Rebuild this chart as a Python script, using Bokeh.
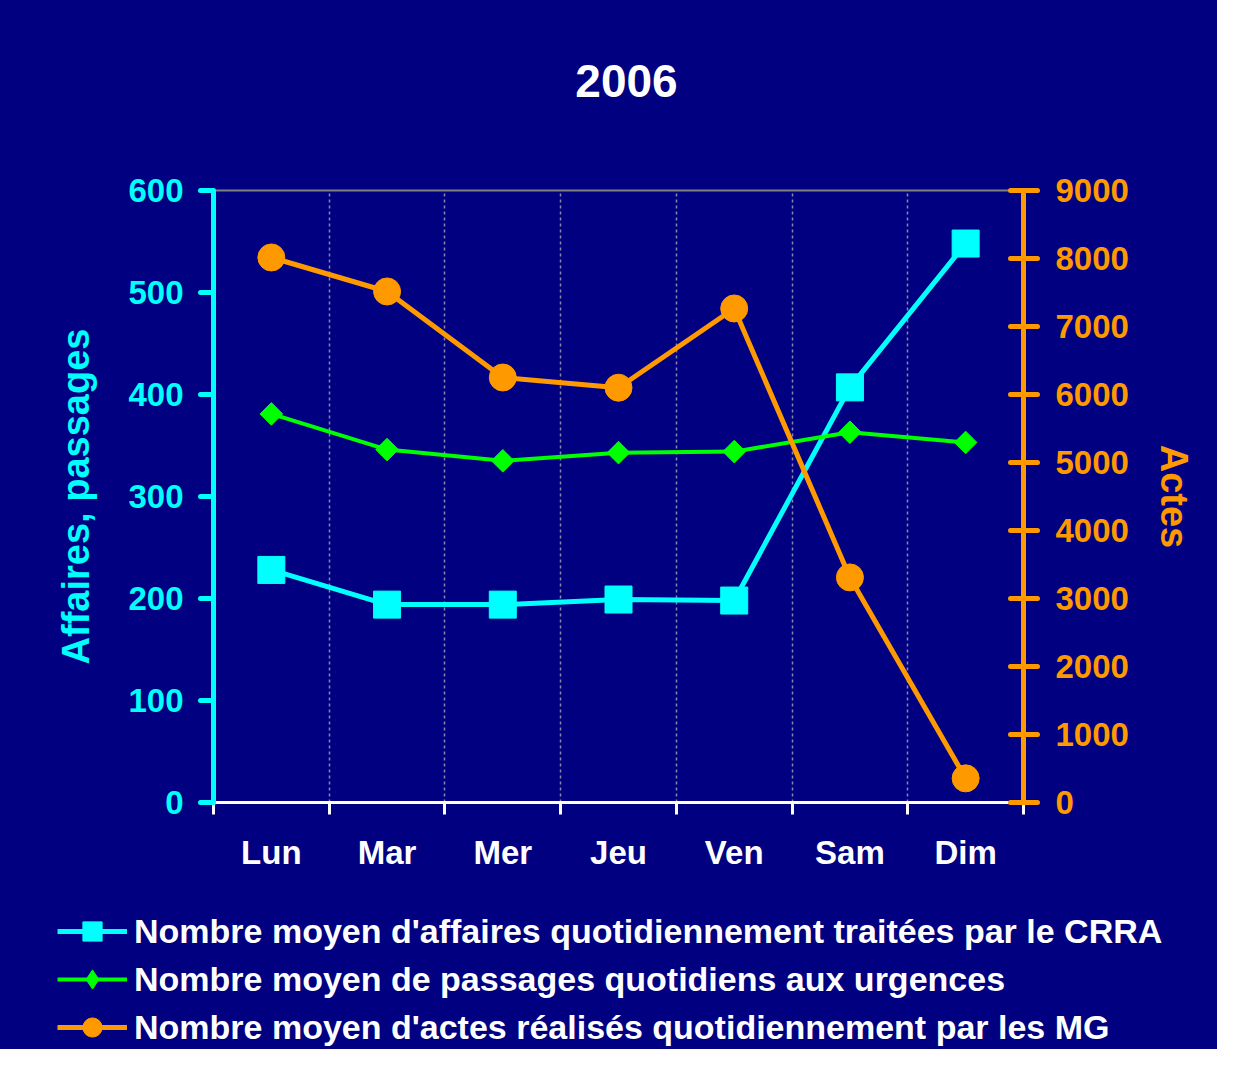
import numpy as np
from bokeh.plotting import figure
from bokeh.layouts import column
from bokeh.models import Range1d, LinearAxis, FixedTicker, Legend, LegendItem, Label
from bokeh.embed import file_html
from bokeh.resources import INLINE

# ---- data ----
days = ["Lun", "Mar", "Mer", "Jeu", "Ven", "Sam", "Dim"]
crra = [228, 194, 194, 199, 198, 407, 548]
urgences = [381, 346, 335, 343, 344, 363, 353]
actes_mg = [8015, 7515, 6250, 6100, 7265, 3310, 355]
left_ticks = [0, 100, 200, 300, 400, 500, 600]
right_ticks = [0, 1000, 2000, 3000, 4000, 5000, 6000, 7000, 8000, 9000]
series_labels = [
    "Nombre moyen d'affaires quotidiennement traitées par le CRRA",
    "Nombre moyen de passages quotidiens aux urgences",
    "Nombre moyen d'actes réalisés quotidiennement par les MG",
]
title_text = "2006"
left_label = "Affaires, passages"
right_label = "Actes"

CYAN = "#00FFFF"
GREEN = "#00FF00"
ORANGE = "#FF9900"
BG = "#000080"
FONT = "Liberation Sans"
W = 1217
TITLE_H, MAIN_H, LEG_H = 140, 760, 149


def blank_fig(h):
    f = figure(width=W, height=h, x_range=Range1d(0, W), y_range=Range1d(0, h),
               output_backend="svg", toolbar_location=None,
               x_axis_location=None, y_axis_location=None,
               min_border=0, min_border_left=0, min_border_right=0,
               min_border_top=0, min_border_bottom=0)
    f.frame_align = False
    f.background_fill_color = BG
    f.border_fill_color = BG
    f.outline_line_color = None
    f.xgrid.visible = False
    f.ygrid.visible = False
    return f


# ---- title strip ----
tf = blank_fig(TITLE_H)
tf.add_layout(Label(x=626, y=TITLE_H - 80, text=title_text, text_align="center",
                    text_baseline="middle", text_color="white", text_font=FONT,
                    text_font_size="46px", text_font_style="bold"))

# ---- main chart ----
x = [i + 0.5 for i in range(len(days))]

p = figure(width=W, height=MAIN_H, x_range=Range1d(0, len(days)),
           y_range=Range1d(left_ticks[0], left_ticks[-1]),
           output_backend="svg", toolbar_location=None,
           min_border_left=213, min_border_right=W - 1023,
           min_border_top=190 - TITLE_H, min_border_bottom=TITLE_H + MAIN_H - 802)
p.frame_align = False
p.extra_y_ranges = {"actes": Range1d(right_ticks[0], right_ticks[-1])}

p.background_fill_color = BG
p.border_fill_color = BG
p.outline_line_color = "#808080"
p.outline_line_width = 2

# x axis
xa = p.xaxis[0]
xa.ticker = FixedTicker(ticks=x, minor_ticks=list(range(len(days) + 1)))
xa.major_label_overrides = {xi: d for xi, d in zip(x, days)}
xa.axis_line_color = "white"
xa.axis_line_width = 3
xa.major_tick_out = 0
xa.major_tick_in = 0
xa.minor_tick_out = 12
xa.minor_tick_in = 0
xa.minor_tick_line_color = "white"
xa.minor_tick_line_width = 3
xa.major_label_text_color = "white"
xa.major_label_text_font = FONT
xa.major_label_text_font_size = "33px"
xa.major_label_text_font_style = "bold"
xa.major_label_standoff = 19

# grid
p.xgrid.ticker = FixedTicker(ticks=list(range(1, len(days))))
p.xgrid.grid_line_color = "#8888AA"
p.xgrid.grid_line_dash = "3 3"
p.xgrid.grid_line_width = 1.5
p.ygrid.visible = False

# left axis
ya = p.yaxis[0]
ya.ticker = FixedTicker(ticks=left_ticks)
ya.axis_line_color = CYAN
ya.axis_line_width = 5
ya.major_tick_line_color = CYAN
ya.major_tick_line_width = 5
ya.major_tick_line_cap = "round"
ya.major_tick_out = 13
ya.major_tick_in = 0
ya.minor_tick_line_color = None
ya.major_label_text_color = CYAN
ya.major_label_text_font = FONT
ya.major_label_text_font_size = "33px"
ya.major_label_text_font_style = "bold"
ya.major_label_standoff = 17
ya.axis_label = left_label
ya.axis_label_text_color = CYAN
ya.axis_label_text_font = FONT
ya.axis_label_text_font_size = "38px"
ya.axis_label_text_font_style = "bold"
ya.axis_label_standoff = 28

# right axis
ra = LinearAxis(y_range_name="actes", ticker=FixedTicker(ticks=right_ticks))
ra.axis_line_color = ORANGE
ra.axis_line_width = 5
ra.major_tick_line_color = ORANGE
ra.major_tick_line_width = 5
ra.major_tick_line_cap = "round"
ra.major_tick_out = 14
ra.major_tick_in = 13
ra.minor_tick_line_color = None
ra.major_label_text_color = ORANGE
ra.major_label_text_font = FONT
ra.major_label_text_font_size = "33px"
ra.major_label_text_font_style = "bold"
ra.major_label_standoff = 18
ra.axis_label = right_label
ra.axis_label_text_color = ORANGE
ra.axis_label_text_font = FONT
ra.axis_label_text_font_size = "38px"
ra.axis_label_text_font_style = "bold"
ra.axis_label_standoff = 21
p.add_layout(ra, "right")

# series
styles = [
    dict(color=CYAN, lw=5, marker="square", size=27, angle=0.0, key="square"),
    dict(color=GREEN, lw=4, marker="square", size=16, angle=np.pi / 4, key="diamond"),
    dict(color=ORANGE, lw=5, marker="circle", size=27, angle=0.0, key="circle"),
]
series = [crra, urgences, actes_mg]
ranges = ["default", "default", "actes"]
for vals, rng, st in zip(series, ranges, styles):
    p.line(x, vals, y_range_name=rng, line_color=st["color"], line_width=st["lw"],
           line_join="round")
    p.scatter(x, vals, y_range_name=rng, marker=st["marker"], size=st["size"],
              angle=st["angle"], fill_color=st["color"], line_color=st["color"])

# ---- legend strip ----
# same series re-plotted here only as legend sources; their values lie above
# this strip's y range so nothing but the legend keys shows
lf = blank_fig(LEG_H)
items = []
for lab, vals, st in zip(series_labels, series, styles):
    rl = lf.line(x, vals, line_color=st["color"], line_width=st["lw"])
    rs = lf.scatter(x, vals, marker=st["key"],
                    fill_color=st["color"], line_color=st["color"])
    items.append(LegendItem(label=lab, renderers=[rl, rs]))
legend = Legend(items=items, location=(57, -2), glyph_width=70, glyph_height=48,
                spacing=0, padding=0, margin=0, label_standoff=7,
                label_text_font=FONT, label_text_font_size="34px",
                label_text_font_style="bold", label_text_color="white",
                background_fill_alpha=0, border_line_alpha=0)
lf.add_layout(legend, "center")

layout = column(tf, p, lf, spacing=0, styles={"background-color": BG})
open("out.html", "w").write(file_html(layout, INLINE))
